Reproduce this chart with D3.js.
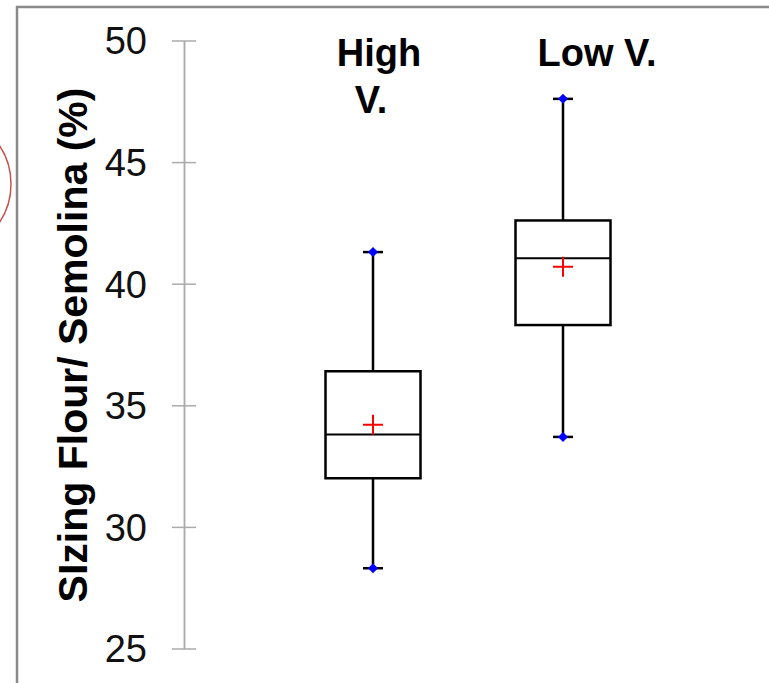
<!DOCTYPE html>
<html>
<head>
<meta charset="utf-8">
<script src="https://cdn.jsdelivr.net/npm/d3@7"></script>
<style>
  body { margin: 0; background: #fff; }
  svg { display: block; font-family: "Liberation Sans", Arial, sans-serif; }
</style>
</head>
<body>
<svg id="chart"></svg>
<script>
// values
const groups = ["High V.", "Low V."];
const groupLines = [["High", "V."], ["Low V."]];
const minVals = [28.3, 33.7];
const q1Vals = [32.0, 38.3];
const medVals = [33.8, 41.05];
const q3Vals = [36.4, 42.6];
const maxVals = [41.3, 47.6];
const meanVals = [34.2, 40.7];
const tickVals = [25, 30, 35, 40, 45, 50];
const yTitle = "SIzing Flour/ Semolina (%)";

const width = 769,
    height = 683;

const svg = d3.select("#chart")
    .attr("width", width)
    .attr("height", height);

svg.append("rect").attr("width", width).attr("height", height).attr("fill", "#fff");

// red circle annotation poking in from the left edge
svg.append("circle")
    .attr("cx", -58).attr("cy", 184).attr("r", 69)
    .attr("fill", "none").attr("stroke", "#c8504b").attr("stroke-width", 1.5);

// frame (top + left edges visible)
svg.append("path")
    .attr("d", `M17,${height} L17,7 L${width},7`)
    .attr("fill", "none").attr("stroke", "#8a8a8a").attr("stroke-width", 2.5);

const y = d3.scaleLinear().domain([25, 50]).range([648.5, 40.5]);
const x = d3.scaleBand().domain(groups).range([278, 658]).padding(0);
const boxW = x.bandwidth() * 0.5;
const cx = g => x(g) + x.bandwidth() / 2;

// axis: ticks cross the line on both sides
const axisG = svg.append("g").attr("transform", "translate(184,0)");
axisG.call(d3.axisLeft(y).tickValues(tickVals).tickSizeInner(12).tickSizeOuter(0).tickPadding(25));
axisG.append("g").call(d3.axisRight(y).tickValues(tickVals).tickSizeInner(12).tickSizeOuter(0).tickFormat(""));
axisG.selectAll(".domain, line").attr("stroke", "#ababab").attr("stroke-width", 1.5);
axisG.selectAll("text")
    .attr("font-size", 38)
    .attr("font-family", "'Liberation Sans', Arial, sans-serif")
    .attr("fill", "#111")
    .attr("dy", "0.35em");

// y title
svg.append("text")
    .attr("transform", "translate(87,345) rotate(-90)")
    .attr("text-anchor", "middle")
    .attr("font-size", 41)
    .attr("font-weight", "bold")
    .attr("fill", "#000")
    .text(yTitle);

// category labels above the boxes
const labelShift = [[6, -2], [34]];
groups.forEach((g, i) => {
    const t = svg.append("text")
        .attr("text-anchor", "middle")
        .attr("font-size", 38)
        .attr("font-weight", "bold")
        .attr("fill", "#000");
    groupLines[i].forEach((line, j) => {
        t.append("tspan")
            .attr("x", cx(g) + labelShift[i][j])
            .attr("y", 66 + j * 47)
            .text(line);
    });
});

// boxes
const boxes = svg.selectAll("g.box")
    .data(groups)
    .join("g")
    .attr("class", "box");

boxes.append("line")
    .attr("x1", cx).attr("x2", cx)
    .attr("y1", (g, i) => y(minVals[i])).attr("y2", (g, i) => y(q1Vals[i]))
    .attr("stroke", "#000").attr("stroke-width", 2.5);
boxes.append("line")
    .attr("x1", cx).attr("x2", cx)
    .attr("y1", (g, i) => y(q3Vals[i])).attr("y2", (g, i) => y(maxVals[i]))
    .attr("stroke", "#000").attr("stroke-width", 2.5);

// whisker caps
[minVals, maxVals].forEach(vals => {
    boxes.append("line")
        .attr("x1", g => cx(g) - 10).attr("x2", g => cx(g) + 10)
        .attr("y1", (g, i) => y(vals[i])).attr("y2", (g, i) => y(vals[i]))
        .attr("stroke", "#000").attr("stroke-width", 2.5);
});

boxes.append("rect")
    .attr("x", g => cx(g) - boxW / 2)
    .attr("width", boxW)
    .attr("y", (g, i) => y(q3Vals[i]))
    .attr("height", (g, i) => y(q1Vals[i]) - y(q3Vals[i]))
    .attr("fill", "#fff").attr("stroke", "#000").attr("stroke-width", 2.5);

boxes.append("line")
    .attr("x1", g => cx(g) - boxW / 2).attr("x2", g => cx(g) + boxW / 2)
    .attr("y1", (g, i) => y(medVals[i])).attr("y2", (g, i) => y(medVals[i]))
    .attr("stroke", "#000").attr("stroke-width", 2);

// mean "+"
boxes.append("path")
    .attr("d", (g, i) => {
        const px = cx(g), py = y(meanVals[i]);
        return `M${px - 10},${py}H${px + 10}M${px},${py - 10}V${py + 10}`;
    })
    .attr("stroke", "#ff0000").attr("stroke-width", 2).attr("fill", "none");

// blue diamonds at the extremes
const diamond = d3.symbol().type(d3.symbolSquare).size(50);
[minVals, maxVals].forEach(vals => {
    boxes.append("path")
        .attr("d", diamond)
        .attr("transform", (g, i) => `translate(${cx(g)},${y(vals[i])}) rotate(45)`)
        .attr("fill", "#0000ff");
});
</script>
</body>
</html>
